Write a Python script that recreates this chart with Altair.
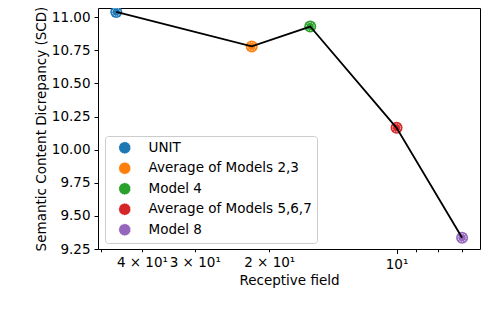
import altair as alt
import pandas as pd

# ---- data ----
models = ["UNIT", "Average of Models 2,3", "Model 4", "Average of Models 5,6,7", "Model 8"]
receptive_field = [46, 22, 16, 10, 7]
scd = [11.04, 10.78, 10.93, 10.165, 9.335]
colors = ["#1f77b4", "#ff7f0e", "#2ca02c", "#d62728", "#9467bd"]

x_tick_values = [50, 40, 30, 20, 10, 9, 8, 7]
x_tick_labels = ["", "4 × 10¹", "3 × 10¹", "2 × 10¹", "10¹", "", "", ""]
y_tick_values = [9.25, 9.5, 9.75, 10.0, 10.25, 10.5, 10.75, 11.0]
x_title = "Receptive field"
y_title = "Semantic Content Dicrepancy (SCD)"
caption = ["Figure 3: Plot of SCD vs receptive field. SCD and"]

df = pd.DataFrame({"model": models, "rf": receptive_field, "scd": scd})
cap_df = pd.DataFrame({"t": caption})

label_expr = "''"
for v, lab in reversed(list(zip(x_tick_values, x_tick_labels))):
    label_expr = f"datum.value == {v} ? '{lab}' : {label_expr}"

FONT = "DejaVu Sans"

x_enc = alt.X(
    "rf:Q",
    scale=alt.Scale(type="log", domain=[6.35, 50.8], reverse=True, nice=False),
    axis=alt.Axis(
        values=x_tick_values,
        labelExpr=label_expr,
        labelOverlap=False,
        labelFlush=False,
        labelBound=False,
        tickSize={"condition": {"test": "datum.value == 10", "value": 4.5}, "value": 2.8},
        labelBaseline="alphabetic",
        labelPadding=15,
        title=x_title,
        titleBaseline="alphabetic",
        titleY=35,
        grid=False,
    ),
)
y_enc = alt.Y(
    "scd:Q",
    scale=alt.Scale(domain=[9.25, 11.07], nice=False, zero=False),
    axis=alt.Axis(
        values=y_tick_values,
        format=".2f",
        tickSize=4,
        labelPadding=4,
        labelOverlap=False,
        labelBound=False,
        labelFlush=False,
        title=y_title,
        titleAngle=270,
        titleX=-53,
        titleY=120.5,
        titleAlign="center",
        titleBaseline="alphabetic",
        grid=False,
    ),
)

base = alt.Chart(df)

points = base.mark_point(filled=True, size=144, opacity=1).encode(
    x=x_enc,
    y=y_enc,
    color=alt.Color(
        "model:N",
        scale=alt.Scale(domain=models, range=colors),
        legend=alt.Legend(
            title=None,
            orient="none",
            legendX=7,
            legendY=128,
            symbolType="circle",
            symbolSize=144,
            symbolOffset=8,
            symbolStrokeColor="white",
            symbolStrokeWidth=0.8,
            symbolDash=[1.5, 1],
            symbolOpacity=1,
            labelOffset=17,
            labelLimit=400,
            padding=5,
            rowPadding=4.5,
            labelFontSize=13.5,
            labelFont=FONT,
            labelColor="black",
            labelExpr="datum.label + '\u2003\u2002'",
            strokeColor="#cccccc",
            fillColor="rgba(255,255,255,0.8)",
            cornerRadius=3,
        ),
    ),
)

rings = base.mark_point(
    filled=False, size=64, stroke="white", strokeWidth=0.8, strokeDash=[1.5, 1], opacity=1
).encode(x=x_enc, y=y_enc)

line = base.mark_line(color="black", strokeWidth=1.8).encode(x=x_enc, y=y_enc)

cap = alt.Chart(cap_df).mark_text(
    align="left", baseline="alphabetic", font="Liberation Serif", fontSize=26, color="black",
    limit=510, ellipsis=""
).encode(text="t:N", x=alt.value(-112), y=alt.value(326))

chart = (
    alt.layer(points, rings, line, cap)
    .properties(
        width=382,
        height=241,
        autosize=alt.AutoSizeParams(type="none"),
        padding={"left": 90, "top": 0, "right": 18, "bottom": 55},
    )
    .configure_view(stroke="black", strokeWidth=1)
    .configure_axis(
        domain=False,
        labelFont=FONT,
        labelFontSize=13.5,
        labelColor="black",
        titleFont=FONT,
        titleFontSize=13.5,
        titleFontWeight="normal",
        titleColor="black",
        tickColor="black",
        labelOverlap=False,
    )
)

chart.save(
    "out.html",
    embed_options={
        "renderer": "svg",
        "actions": False,
        "defaultStyle": ".vega-embed svg{overflow:visible}",
    },
)
